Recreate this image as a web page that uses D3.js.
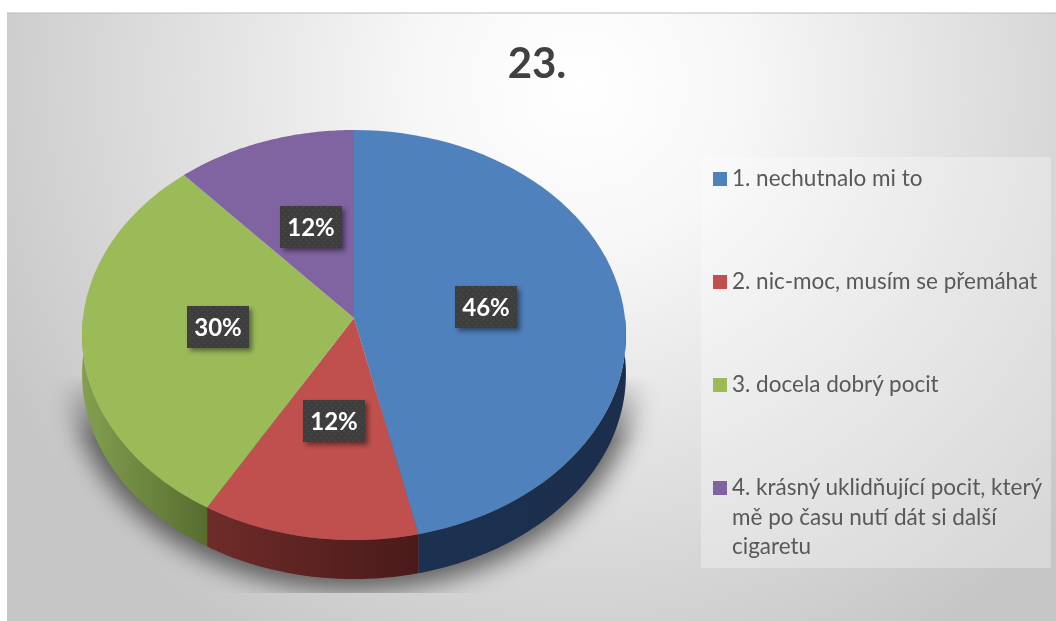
<!DOCTYPE html>
<html lang="en">
<head>
<meta charset="UTF-8">
<title>23.</title>
<script src="https://cdn.jsdelivr.net/npm/d3@7"></script>
<style>
    html, body { margin: 0; padding: 0; background: #fff; }
    svg { display: block; }
    text { font-family: Lato, "Open Sans", sans-serif; }
</style>
</head>
<body>
<div id="chart"></div>
<script>
const title = "23.";
const categories = ["1. nechutnalo mi to", "2. nic-moc, musím se přemáhat", "3. docela dobrý pocit", "4. krásný uklidňující pocit, který"];
const extraLines = [[], [], [], ["mě po času nutí dát si další", "cigaretu"]];
const values = [46.49, 11.9, 30.0, 11.61];
const colors = ["#4f81bd", "#c0504d", "#9bbb59", "#8064a2"];
const sideFrom = ["#1b3150", "#6e2c29", "#83a04f", "#5c4a76"];
const sideTo = ["#1b2f4c", "#4a1a1a", "#576d30", "#4a3a60"];

const width = 1056, height = 621;
const svg = d3.select("#chart").append("svg").attr("width", width).attr("height", height);
const defs = svg.append("defs");

// background
const bg = defs.append("radialGradient").attr("id", "bg")
    .attr("gradientUnits", "userSpaceOnUse")
    .attr("cx", 580).attr("cy", 85).attr("r", 650);
bg.append("stop").attr("offset", 0).attr("stop-color", "#ffffff");
bg.append("stop").attr("offset", 0.25).attr("stop-color", "#f7f7f7");
bg.append("stop").attr("offset", 1).attr("stop-color", "#c6c6c6");
svg.append("rect").attr("x", 7).attr("y", 13).attr("width", 1049).attr("height", 608).attr("fill", "url(#bg)");
svg.append("line").attr("x1", 7).attr("x2", 1056).attr("y1", 13).attr("y2", 13).attr("stroke", "#bdbdbd");

defs.append("filter").attr("id", "soft").attr("x", "-20%").attr("y", "-20%").attr("width", "140%").attr("height", "140%")
    .append("feGaussianBlur").attr("stdDeviation", 12);
defs.append("filter").attr("id", "textBlur").attr("x", "-5%").attr("y", "-20%").attr("width", "110%").attr("height", "140%")
    .append("feGaussianBlur").attr("stdDeviation", 0.45);
defs.append("filter").attr("id", "labelShadow").attr("x", "-30%").attr("y", "-30%").attr("width", "170%").attr("height", "170%")
    .append("feDropShadow").attr("dx", 3).attr("dy", 3).attr("stdDeviation", 2.5).attr("flood-color", "#000").attr("flood-opacity", 0.45);

const dots = defs.append("pattern").attr("id", "dots").attr("patternUnits", "userSpaceOnUse").attr("width", 6).attr("height", 6);
dots.append("rect").attr("width", 6).attr("height", 6).attr("fill", "#3c3c3c");
dots.append("circle").attr("cx", 1.5).attr("cy", 1.5).attr("r", 1).attr("fill", "#4a4a4a");
dots.append("circle").attr("cx", 4.5).attr("cy", 4.5).attr("r", 1).attr("fill", "#4a4a4a");

// pie seen in perspective: unit circle -> screen
const cx = 354, cy = 318, a = 271, b = 203.6, k = 0.083, depth = 39;
const project = (ang, r) => {
    const u = r * Math.sin(ang), v = r * Math.cos(ang), w = 1 + k * v;
    return [cx + a * u / w, cy - b * v / w];
};
const line = d3.line();
const arcPts = (a0, a1, r, dy) => d3.range(0, 61).map(i => {
    const p = project(a0 + (a1 - a0) * i / 60, r);
    return [p[0], p[1] + dy];
});

const pie = d3.pie().sort(null)(values);
const rimLeft = 1.5 * Math.PI, rimRight = 0.5 * Math.PI;

// shadow under the pie: fades out upward, cut off at the bottom
const fade = defs.append("linearGradient").attr("id", "shadowFade")
    .attr("gradientUnits", "userSpaceOnUse").attr("x1", 0).attr("x2", 0).attr("y1", 375).attr("y2", 440);
fade.append("stop").attr("offset", 0).attr("stop-color", "#000");
fade.append("stop").attr("offset", 1).attr("stop-color", "#fff");
defs.append("mask").attr("id", "shadowMask").attr("maskUnits", "userSpaceOnUse")
    .attr("x", 0).attr("y", 0).attr("width", width).attr("height", height)
    .append("rect").attr("x", 40).attr("y", 375).attr("width", 630).attr("height", 218).attr("fill", "url(#shadowFade)");
svg.append("g").attr("mask", "url(#shadowMask)")
    .append("path")
    .attr("d", line(arcPts(0, 2 * Math.PI, 1.04, depth + 2)) + "Z")
    .attr("fill", "#000").attr("fill-opacity", 0.55).attr("filter", "url(#soft)");

// side walls
const sides = pie.map((d, i) => {
    const a0 = Math.max(d.startAngle, rimRight), a1 = Math.min(d.endAngle, rimLeft);
    return { i, a0, a1 };
}).filter(d => d.a1 > d.a0);

sides.forEach(d => {
    const g = defs.append("linearGradient").attr("id", "side" + d.i);
    g.append("stop").attr("offset", 0).attr("stop-color", sideFrom[d.i]);
    g.append("stop").attr("offset", 1).attr("stop-color", sideTo[d.i]);
});
svg.append("g").selectAll("path").data(sides).join("path")
    .attr("d", d => line(arcPts(d.a0, d.a1, 1, 0).concat(arcPts(d.a1, d.a0, 1, depth))) + "Z")
    .attr("fill", d => `url(#side${d.i})`);

// top face
svg.append("g").selectAll("path").data(pie).join("path")
    .attr("d", d => line([[cx, cy]].concat(arcPts(d.startAngle, d.endAngle, 1, 0))) + "Z")
    .attr("fill", (d, i) => colors[i]);

// data labels
const labelPos = [[486, 307], [334, 421], [218, 327], [311, 227]];
const pct = d3.format(".0f");
const labels = svg.append("g").selectAll("g").data(pie).join("g")
    .attr("transform", (d, i) => `translate(${labelPos[i]})`);
labels.append("rect").attr("x", -31).attr("y", -21).attr("width", 62).attr("height", 42)
    .attr("fill", "url(#dots)").attr("filter", "url(#labelShadow)");
labels.append("text").attr("text-anchor", "middle").attr("y", 8.5)
    .attr("font-size", 24).attr("font-weight", 700).attr("fill", "#fff")
    .attr("filter", "url(#textBlur)")
    .text(d => pct(d.value) + "%");

// title
svg.append("text").attr("x", 537).attr("y", 78).attr("text-anchor", "middle")
    .attr("font-size", 42).attr("font-weight", 700).attr("fill", "#404040")
    .attr("filter", "url(#textBlur)").text(title);

// legend
svg.append("rect").attr("x", 701).attr("y", 157).attr("width", 350).attr("height", 411)
    .attr("fill", "#fff").attr("fill-opacity", 0.3);
const legendY = [179, 282, 385, 488];
const legend = svg.append("g").selectAll("g").data(categories).join("g")
    .attr("transform", (d, i) => `translate(713,${legendY[i]})`);
legend.append("rect").attr("y", -7).attr("width", 14).attr("height", 14).attr("fill", (d, i) => colors[i]);
legend.append("text").attr("x", 19).attr("y", 7).attr("font-size", 22.5).attr("fill", "#595959")
    .attr("filter", "url(#textBlur)").text(d => d);
legend.selectAll("text.more").data((d, i) => extraLines[i]).join("text").attr("class", "more")
    .attr("x", 19).attr("y", (d, i) => 7 + 29.5 * (i + 1)).attr("font-size", 22.5).attr("fill", "#595959")
    .attr("filter", "url(#textBlur)").text(d => d);
</script>
</body>
</html>
